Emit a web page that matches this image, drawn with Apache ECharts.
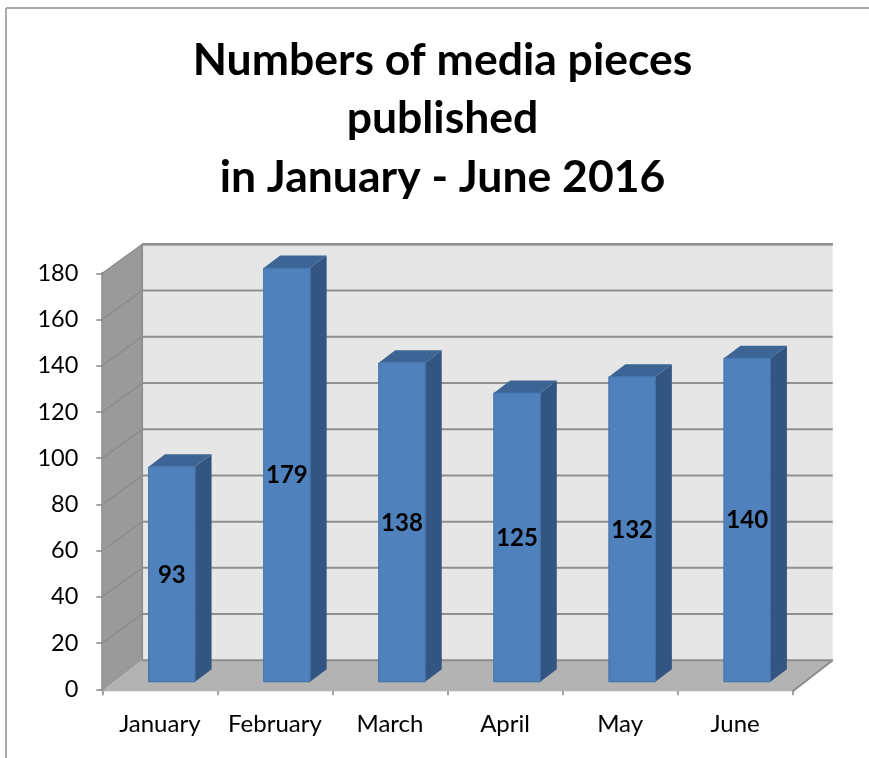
<!DOCTYPE html>
<html><head><meta charset="utf-8">
<style>html,body{margin:0;padding:0;background:#fff}#c{width:869px;height:758px}</style>
<script src="https://cdn.jsdelivr.net/npm/echarts@6/dist/echarts.min.js"></script>
</head><body><div id="c"></div>
<script>
const categories = ['January','February','March','April','May','June'];
const values = [93,179,138,125,132,140];
const yTicks = [0,20,40,60,80,100,120,140,160,180];
const titleLines = 'Numbers of media pieces\npublished\nin January - June 2016';

const FONT = 'Lato';
const DX = 40, DY = 29;          // wall depth
const BW = 46.5, BSHIFT = 12, BDY = 7.5, SDX = 16.5, SDY = 12.5; // bar geometry

const chart = echarts.init(document.getElementById('c'), null, {renderer:'canvas'});

function poly(points, fill, stroke, lw){
  return {type:'polygon', shape:{points}, style:{fill, stroke:stroke||fill, lineWidth:lw||0}};
}
function line(x1,y1,x2,y2,stroke,lw){
  return {type:'line', shape:{x1,y1,x2,y2}, style:{stroke, lineWidth:lw}};
}
function renderWalls(params, api){
  const l = api.coord([0,0]);
  const x0 = params.coordSys.x, x1 = x0 + params.coordSys.width;
  const yb = l[1], yt = api.coord([0,180])[1];
  return {type:'group', children:[
    poly([[x0,yt],[x0+DX,yt-DY],[x0+DX,yb-DY],[x0,yb+2]],'#9A9A9A'),
    poly([[x0+DX,yt-DY],[x1+DX,yt-DY],[x1+DX,yb-DY],[x0+DX,yb-DY]],'#E6E6E6'),
    poly([[x0,yb+2],[x0+DX,yb-DY],[x1+DX,yb-DY],[x1,yb+2]],'#B3B3B3'),
    line(x0+DX,yb-DY,x1+DX,yb-DY,'#8C8C8C',2),
    line(x0+DX,yt-DY,x1+DX,yt-DY,'#8C8C8C',2.5),
    line(x0+DX,yt-DY,x0+DX,yb-DY,'#8C8C8C',1.5),
    line(x1,yb+2,x1+DX,yb-DY,'#8C8C8C',2)
  ]};
}
function renderGrid(params, api){
  const v = api.value(0);
  const y = api.coord([0,v])[1];
  const x0 = params.coordSys.x, x1 = x0 + params.coordSys.width;
  return {type:'group', children:[
    line(x0,y,x0+DX,y-DY,'#8A8A8A',1.2),
    line(x0+DX,y-DY,x1+DX,y-DY,'#8F8F8F',2)
  ]};
}
function renderBar(params, api){
  const i = api.value(0), v = api.value(1);
  const top = api.coord([i,v]), bot = api.coord([i,0]);
  const xl = top[0]+BSHIFT-BW/2, xr = xl+BW;
  const yt = top[1]-BDY, yb = bot[1]-BDY;
  return {type:'group', children:[
    poly([[xr,yt],[xr+SDX,yt-SDY],[xr+SDX,yb-SDY],[xr,yb]],'#325581'),
    poly([[xl,yt],[xl+SDX,yt-SDY],[xr+SDX,yt-SDY],[xr,yt]],'#3C6494'),
    {type:'rect', shape:{x:xl,y:yt,width:BW,height:yb-yt}, style:{fill:'#4F81BD',stroke:'#4272A8',lineWidth:1}},
    {type:'text', style:{text:String(v), x:xl+BW/2, y:(yt+yb)/2+0.5, align:'center', verticalAlign:'middle',
      font:'bold 24px '+FONT, fill:'#000'}}
  ]};
}

chart.setOption({
  animation:false,
  backgroundColor:'#fff',
  title:{text:titleLines, left:437.5, top:26, textAlign:'center',
    textStyle:{fontFamily:FONT, fontWeight:'bold', fontSize:44.5, lineHeight:58.5, color:'#000'}},
  grid:{left:102.3, top:273.3, width:690.4, height:416, containLabel:false},
  xAxis:{type:'category', data:categories, offset:3,
    axisLine:{lineStyle:{color:'#868686',width:2.5}},
    axisTick:{show:true, length:6, alignWithLabel:false, lineStyle:{color:'#868686',width:1.5}},
    axisLabel:{color:'#000', fontFamily:FONT, fontSize:24, margin:20, interval:0},
    splitLine:{show:false}},
  yAxis:{type:'value', min:0, max:180, interval:20,
    axisLine:{show:true, lineStyle:{color:'#868686',width:2.5}},
    axisTick:{show:true, length:6, lineStyle:{color:'#868686',width:1.5}},
    axisLabel:{color:'#000', fontFamily:FONT, fontSize:23.5, margin:24},
    splitLine:{show:false}},
  graphic:[
    {type:'line', z:0, shape:{x1:6,y1:8,x2:869,y2:8}, style:{stroke:'#8E8E8E',lineWidth:1.5}},
    {type:'line', z:0, shape:{x1:6,y1:8,x2:6,y2:758}, style:{stroke:'#8E8E8E',lineWidth:1.5}}
  ],
  series:[
    {type:'custom', name:'walls', renderItem:renderWalls, data:[[0]], z:1, silent:true, encode:{x:-1,y:-1}},
    {type:'custom', name:'grid', renderItem:renderGrid, data:yTicks.slice(1).map(v=>[v]), z:2, silent:true, encode:{x:-1,y:0}},
    {type:'custom', name:'bars', renderItem:renderBar, data:values.map((v,i)=>[i,v]), z:3, encode:{x:0,y:1}}
  ]
});
</script></body></html>
